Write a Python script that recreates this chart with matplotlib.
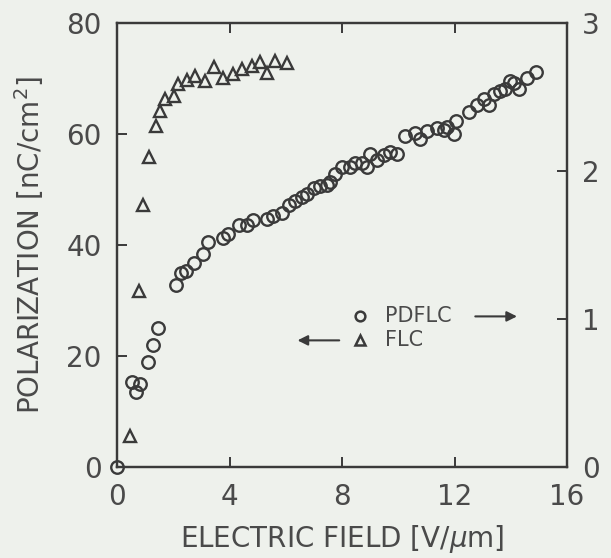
import matplotlib.pyplot as plt

# FLC (left axis, nC/cm^2)
flc_e = [0.46, 0.78, 0.91, 1.15, 1.39, 1.53, 1.71, 2.03, 2.18, 2.50, 2.78, 3.14,
         3.46, 3.76, 4.14, 4.46, 4.79, 5.09, 5.33, 5.62, 6.04]
flc_p = [5.6, 31.7, 47.3, 56.0, 61.6, 64.3, 66.4, 67.0, 69.0, 69.8, 70.5, 69.7,
         72.1, 70.1, 70.9, 71.7, 72.3, 73.0, 71.0, 73.2, 72.9]

# PDFLC (right axis)
pd_e = [0.0, 0.54, 0.68, 0.82, 1.11, 1.29, 1.45, 2.10, 2.28, 2.46, 2.75, 3.04,
        3.25, 3.78, 3.96, 4.35, 4.61, 4.85, 5.33, 5.56, 5.86, 6.10, 6.33, 6.57,
        6.75, 6.99, 7.22, 7.46, 7.58, 7.76, 8.00, 8.29, 8.47, 8.71, 8.89, 9.00,
        9.24, 9.48, 9.72, 9.95, 10.25, 10.60, 10.78, 11.02, 11.38, 11.61, 11.73,
        11.97, 12.06, 12.50, 12.80, 13.04, 13.21, 13.39, 13.63, 13.81, 13.99,
        14.10, 14.28, 14.58, 14.88]
pd_p = [0.0, 0.58, 0.51, 0.56, 0.71, 0.83, 0.94, 1.23, 1.31, 1.33, 1.38, 1.44,
        1.52, 1.55, 1.58, 1.64, 1.64, 1.67, 1.68, 1.70, 1.72, 1.77, 1.80, 1.83,
        1.85, 1.89, 1.90, 1.91, 1.93, 1.98, 2.03, 2.03, 2.06, 2.06, 2.03, 2.12,
        2.08, 2.11, 2.13, 2.12, 2.24, 2.26, 2.22, 2.27, 2.29, 2.28, 2.30,
        2.25, 2.34, 2.40, 2.45, 2.49, 2.45, 2.52, 2.54, 2.56, 2.61,
        2.60, 2.56, 2.63, 2.67]

x_ticks = [0, 4, 8, 12, 16]
yl_ticks = [0, 20, 40, 60, 80]
yr_ticks = [0, 1, 2, 3]

bg = '#eef1ec'
ink = '#3a3a3a'
txt = '#4a4a4a'

plt.rcParams['font.family'] = ['DejaVu Sans']
plt.rcParams['mathtext.fontset'] = 'dejavusans'

fig = plt.figure(figsize=(6.11, 5.58), dpi=100, facecolor=bg)
ax = fig.add_axes([0.1915, 0.1625, 0.7365, 0.7955])
ax.set_facecolor(bg)
ax2 = ax.twinx()

ax.plot(flc_e, flc_p, linestyle='none', marker='^', markersize=8.5,
        markerfacecolor='none', markeredgecolor=ink, markeredgewidth=1.7, clip_on=False)
ax2.plot(pd_e, pd_p, linestyle='none', marker='o', markersize=9,
         markerfacecolor='none', markeredgecolor=ink, markeredgewidth=1.7, clip_on=False)

ax.set_xlim(0, 16)
ax.set_ylim(0, 80)
ax2.set_ylim(0, 3)
ax.set_xticks(x_ticks)
ax.set_yticks(yl_ticks)
ax2.set_yticks(yr_ticks)

for a in (ax, ax2):
    for s in a.spines.values():
        s.set_color(ink)
        s.set_linewidth(1.6)
ax.tick_params(direction='in', length=7, width=1.4, color=ink, labelcolor=txt,
               labelsize=20, pad=11, top=True)
ax2.tick_params(direction='in', length=7, width=1.4, color=ink, labelcolor=txt,
                labelsize=20, pad=11)

ax.set_xlabel('ELECTRIC FIELD [V/$\\mu$m]', fontsize=20, color=txt, labelpad=9)
ax.set_ylabel('POLARIZATION [nC/cm$^2$]', fontsize=20, color=txt, labelpad=15)

# legend drawn by hand with arrows
ax.plot([0.54], [0.34], transform=ax.transAxes, marker='o', markersize=7,
        markerfacecolor='none', markeredgecolor=ink, markeredgewidth=1.8)
ax.plot([0.54], [0.286], transform=ax.transAxes, marker='^', markersize=7,
        markerfacecolor='none', markeredgecolor=ink, markeredgewidth=1.8)
ax.text(0.595, 0.34, 'PDFLC', transform=ax.transAxes, fontsize=15,
        color=txt, va='center')
ax.text(0.595, 0.286, 'FLC', transform=ax.transAxes, fontsize=15,
        color=txt, va='center')
ax.annotate('', xy=(0.895, 0.34), xytext=(0.79, 0.34), xycoords='axes fraction',
            arrowprops=dict(arrowstyle='-|>', color=ink, lw=1.5, mutation_scale=15))
ax.annotate('', xy=(0.395, 0.286), xytext=(0.5, 0.286), xycoords='axes fraction',
            arrowprops=dict(arrowstyle='-|>', color=ink, lw=1.5, mutation_scale=15))

fig.savefig('out.png', dpi=100, facecolor=bg)
